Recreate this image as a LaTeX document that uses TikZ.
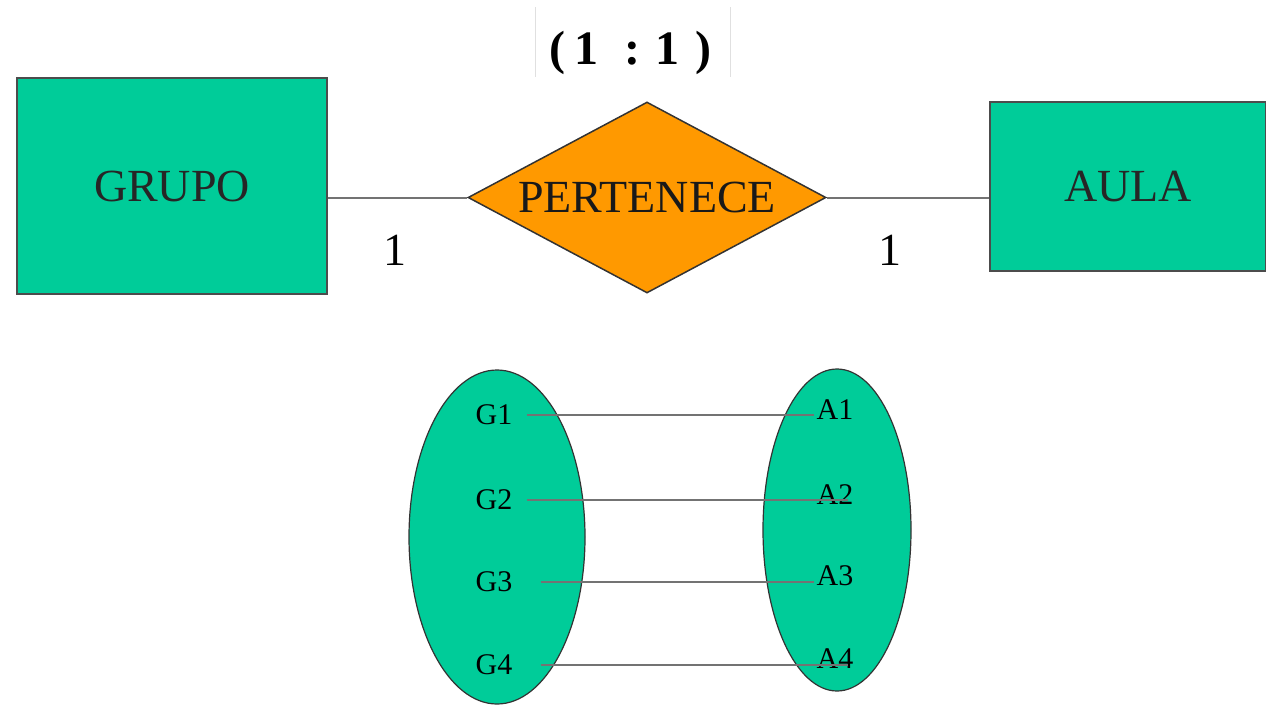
\documentclass[tikz,border=0pt]{standalone}
\usepackage{fontspec}
\setmainfont{Liberation Serif}
\usepackage{xcolor}
\usetikzlibrary{shapes.geometric,positioning}

\definecolor{entgreen}{RGB}{0,204,153}
\definecolor{relorange}{RGB}{255,153,0}

\begin{document}
\begin{tikzpicture}[
  x=1pt, y=-1pt,
  ent/.style={draw=black!70, line width=2pt, fill=entgreen, inner sep=0pt,
              text=black!85, font=\fontsize{46}{50}\selectfont},
  rel/.style={diamond, draw=black!80, line width=1.5pt, fill=relorange, aspect=1.87,
              inner sep=0pt, minimum width=358pt, minimum height=191pt,
              text=black!90, font=\fontsize{46}{50}\selectfont},
  card/.style={font=\fontsize{46}{50}\selectfont},
  set/.style={ellipse, draw=black!80, line width=1.2pt, fill=entgreen, inner sep=0pt},
  elem/.style={inner sep=2pt, font=\fontsize{30}{32}\selectfont},
  link/.style={draw=black!55, line width=2pt}
]
  \useasboundingbox (0,0) rectangle (1266,704);

  % Ratio label
  \node[minimum width=194pt, minimum height=70pt, inner sep=0pt] (ratiobox) at (633,42) {};
  \draw[black!12, line width=1pt] (ratiobox.north west) -- (ratiobox.south west);
  \draw[black!12, line width=1pt] (ratiobox.north east) -- (ratiobox.south east);
  \node[anchor=base west, inner sep=0pt, font=\bfseries\fontsize{48}{52}\selectfont] (ratio) at (549,64)
        {(\hspace{9pt}1\hspace{26pt}:\hspace{15pt}1\hspace{16pt})};

  % Entities and relationship
  \node[ent, minimum width=310pt, minimum height=216pt] (grupo) at (172,186) {GRUPO};
  \node[rel] (pert) at (647,197.5) {PERTENECE};
  \node[ent, minimum width=276pt, minimum height=169pt] (aula) at (1128,186.5) {AULA};

  \draw[link] (pert.west) -- (pert.west -| grupo.east);
  \draw[link] (pert.east) -- (pert.east -| aula.west);

  % Cardinalities
  \node[card] (cardg) at (395,250) {1};
  \node[card] (carda) at (890,250) {1};

  % Sets of occurrences
  \node[set, minimum width=176pt, minimum height=334pt] (setg) at (497,537) {};
  \node[set, minimum width=148pt, minimum height=322pt] (seta) at (837,530) {};

  \node[elem] (g1) at (494,415) {G1};
  \node[elem] (g2) at (494,500) {G2};
  \node[elem] (g3) at (494,582) {G3};
  \node[elem] (g4) at (494,665) {G4};

  \node[elem] (a1) at (835,410) {A1};
  \node[elem] (a2) at (835,495) {A2};
  \node[elem] (a3) at (835,576) {A3};
  \node[elem] (a4) at (835,659) {A4};

  % Pairings
  \draw[link] ([xshift=12pt]g1.east) -- (g1.east -| a1.west);
  \draw[link] ([xshift=12pt]g2.east) -- ([xshift=-8pt]g2.east -| a2.east);
  \draw[link] ([xshift=26pt]g3.east) -- (g3.east -| a3.west);
  \draw[link] ([xshift=26pt]g4.east) -- ([xshift=-8pt]g4.east -| a4.east);
\end{tikzpicture}
\end{document}
